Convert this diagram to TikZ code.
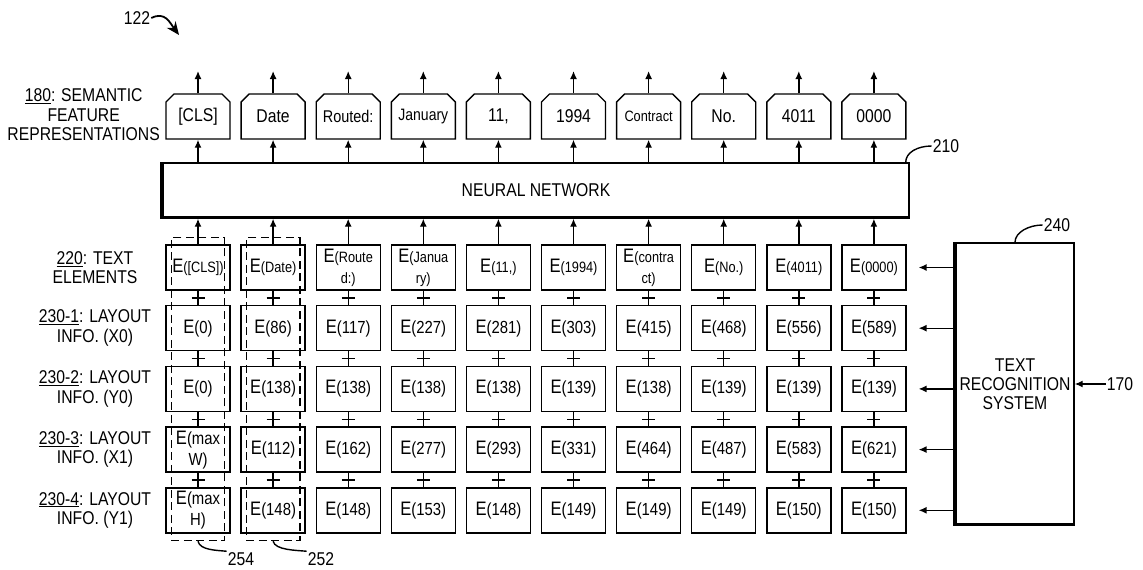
\documentclass[tikz,border=0pt]{standalone}
\usepackage{fontspec}
\setmainfont{Liberation Sans}[FakeStretch=0.85]
\usetikzlibrary{arrows.meta,shapes.misc,calc,fit,positioning}

\newcommand\lbl{\fontsize{18.5}{19}\selectfont}
\newcommand\Eb{{\fontsize{19.5}{20}\selectfont E}}
\newcommand\sm[1]{{\fontsize{15}{16}\selectfont #1}}
\newcommand\md[1]{{\fontsize{17.5}{18}\selectfont #1}}
\newcommand\En[1]{\Eb\md{(#1)}}

\begin{document}
\begin{tikzpicture}[
      x=1pt, y=-1pt,
      box/.style={draw, line width=1.4pt, minimum width=64pt, minimum height=45pt,
        inner sep=1pt, align=center, font=\fontsize{18.5}{21}\selectfont},
      tok/.style={box, chamfered rectangle, chamfered rectangle corners={north west,north east},
        chamfered rectangle sep=4pt},
      block/.style={draw, line width=1.4pt, align=center, font=\lbl},
      lab/.style={align=center, font=\fontsize{18.5}{19.5}\selectfont, inner sep=1pt},
      arr/.style={-{Latex[length=8pt,width=7pt]}, line width=1.4pt},
      dashbox/.style={draw, line width=1.5pt, dash pattern=on 8pt off 4.5pt, inner xsep=-6pt, inner ysep=7pt},
      lead/.style={line width=1.4pt}
    ]
    \useasboundingbox (0,0) rectangle (1143,570);

    % network and text recognition blocks
    \node (nn) [block, minimum width=746pt, minimum height=55pt] at (536,190.5) {NEURAL NETWORK};
    \draw[line width=3pt] ([xshift=-1pt]nn.north west) -- ([shift={(-1pt,1pt)}]nn.south west)
      -- ([yshift=1pt]nn.south east);
    \node (trs) [block, minimum width=118pt, minimum height=282pt] at (1015,384)
      {TEXT\\RECOGNITION\\SYSTEM};
    \draw[line width=3pt] ([xshift=-1pt]trs.north west) -- ([shift={(-1pt,1pt)}]trs.south west)
      -- ([yshift=1pt]trs.south east);

    % semantic feature representations
    \foreach \t [count=\i] in {{[CLS]},Date,{\fontsize{17}{18}\selectfont Routed:},
        {\fontsize{16.5}{18}\selectfont January},{11,},1994,{\fontsize{15}{18}\selectfont Contract},
        No.,4011,0000} {
      \node (t-\i) [tok] at ({198+75.1*(\i-1)},116.5) {\t};
      \coordinate (o-\i) at ({198+75.1*(\i-1)},71);
      \draw[arr] (t-\i.south |- nn.north) -- (t-\i.south);
      \draw[arr] (t-\i.north) -- (o-\i);
    }

    % embedding rows
    \foreach \t [count=\i] in {{\Eb\sm{([CLS])}},{\Eb\sm{(Date)}},{\Eb\sm{(Route}\\\sm{d:)}},
        {\Eb\sm{(Janua}\\\sm{ry)}},{\Eb\sm{(11,)}},{\Eb\sm{(1994)}},{\Eb\sm{(contra}\\\sm{ct)}},
        {\Eb\sm{(No.)}},{\Eb\sm{(4011)}},{\Eb\sm{(0000)}}}
      \node (c-0-\i) [box] at ({198+75.1*(\i-1)},267.5) {\t};
    \foreach \v [count=\i] in {0,86,117,227,281,303,415,468,556,589}
      \node (c-1-\i) [box] at ({198+75.1*(\i-1)},328.2) {\En{\v}};
    \foreach \v [count=\i] in {0,138,138,138,138,139,138,139,139,139}
      \node (c-2-\i) [box] at ({198+75.1*(\i-1)},388.9) {\En{\v}};
    \foreach \t [count=\i] in {{\Eb\md{(max}\\\md{W)}},\En{112},\En{162},\En{277},\En{293},
        \En{331},\En{464},\En{487},\En{583},\En{621}}
      \node (c-3-\i) [box] at ({198+75.1*(\i-1)},449.6) {\t};
    \foreach \t [count=\i] in {{\Eb\md{(max}\\\md{H)}},\En{148},\En{148},\En{153},\En{148},
        \En{149},\En{149},\En{149},\En{150},\En{150}}
      \node (c-4-\i) [box] at ({198+75.1*(\i-1)},510.3) {\t};

    % plus signs and arrows into the network
    \foreach \i in {1,...,10} {
      \draw[arr] (c-0-\i.north) -- (c-0-\i.north |- nn.south);
      \foreach \r [evaluate=\r as \s using int(\r+1)] in {0,...,3} {
        \draw[lead] (c-\r-\i.south) -- (c-\s-\i.north);
        \draw[lead] ($(c-\r-\i.south)!.5!(c-\s-\i.north)$) +(-6.5,0) -- +(6.5,0);
      }
    }
    \foreach \r in {0,...,4}
      \draw[arr, shorten >=12pt] (trs.west |- c-\r-10) -- (c-\r-10.east);

    % dashed columns
    \node (d-1) [dashbox, fit=(c-0-1)(c-4-1)] {};
    \node (d-2) [dashbox, fit=(c-0-2)(c-4-2)] {};

    % row labels
    \node (l180) [lab, anchor=east] at (161,115) {\underline{180}: SEMANTIC\\FEATURE\\REPRESENTATIONS};
    \foreach \t [count=\r from 0] in {{\underline{220}: TEXT\\ELEMENTS},
        {\underline{230-1}: LAYOUT\\INFO. (X0)},{\underline{230-2}: LAYOUT\\INFO. (Y0)},
        {\underline{230-3}: LAYOUT\\INFO. (X1)},{\underline{230-4}: LAYOUT\\INFO. (Y1)}}
      \node (r-\r) [lab] at (95,{267.5+60.7*\r}) {\t};

    % reference numerals
    \node (l122) [lab] at (137,18) {122};
    \coordinate (a122) at (179,35);
    \draw[-{Stealth[length=13pt,width=11pt]}, line width=1.8pt]
      (l122.east) .. controls +(14,-7) and +(-9,-12) .. (a122);
    \node (l210) [lab] at (946,146) {210};
    \draw[lead] (l210.west) .. controls +(-14,0) and +(0,-10) .. ([xshift=-4pt]nn.north east);
    \node (l240) [lab] at (1057,225) {240};
    \draw[lead] (l240.west) .. controls +(-14,0) and +(0,-10) .. (trs.north);
    \node (l170) [lab] at (1120,384) {170};
    \draw[arr] (l170.west) -- (trs.east |- l170.west);
    \node (l254) [lab] at (241,559) {254};
    \draw[lead] (d-1.south) .. controls +(2,9) and +(-10,-1) .. (l254.north west);
    \node (l252) [lab] at (321,559) {252};
    \draw[lead] (d-2.south) .. controls +(2,9) and +(-10,-1) .. (l252.north west);
  \end{tikzpicture}
\end{document}
